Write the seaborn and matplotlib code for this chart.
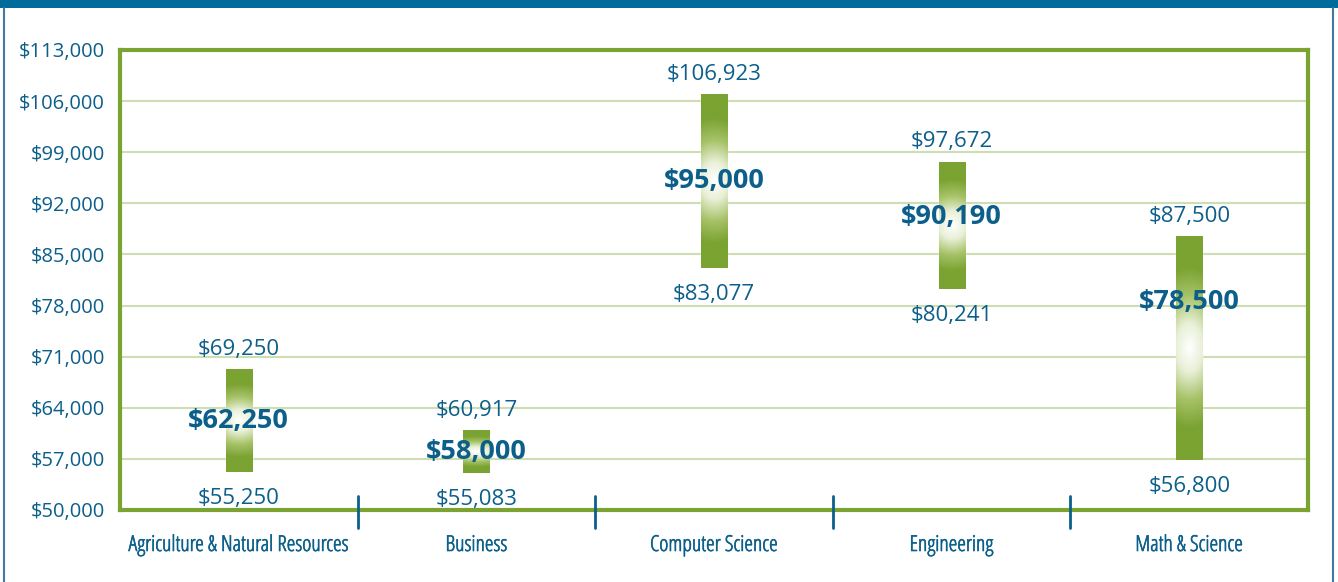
import numpy as np
import pandas as pd
import matplotlib
matplotlib.use("Agg")
import matplotlib.pyplot as plt
import seaborn as sns
from matplotlib.colors import LinearSegmentedColormap
from matplotlib.patches import Rectangle
from matplotlib.lines import Line2D
import matplotlib.transforms as mtransforms
import matplotlib.patheffects as pe

categories = ["Agriculture & Natural Resources", "Business", "Computer Science",
              "Engineering", "Math & Science"]
lows = [55250, 55083, 83077, 80241, 56800]
highs = [69250, 60917, 106923, 97672, 87500]
medians = [62250, 58000, 95000, 90190, 78500]
yticks = list(range(50000, 113001, 7000))

BLUE = "#0b5f8a"
BAND = "#006c9c"
GREEN = "#7aa332"
GRID = "#cddfb2"

sns.set_style("white")
plt.rcParams["font.family"] = ["Open Sans", "DejaVu Sans"]

df = pd.DataFrame({"category": categories, "low": lows, "high": highs,
                   "median": medians})
df["span"] = df["high"] - df["low"]

fig = plt.figure(figsize=(13.38, 5.82), dpi=100)
ax = fig.add_axes([120 / 1338, 1 - 510 / 582, 1188 / 1338, 460 / 582])

sns.barplot(data=df, x="category", y="span", bottom=df["low"].values,
            color=GREEN, width=0.11, ax=ax, saturation=1)

ax.set_ylim(50000, 113000)
ax.set_xlim(-0.5, len(categories) - 0.5)
ax.set_yticks(yticks)
ax.set_yticklabels([f"${v:,}" for v in yticks], color=BLUE, fontsize=14.5)
ax.tick_params(axis="y", length=0, pad=11)
ax.tick_params(axis="x", length=0, pad=18)
ax.set_xticks(range(len(categories)))
ax.set_xticklabels(categories, color=BLUE, fontsize=15.8,
                   fontstretch="condensed",
                   path_effects=[pe.withStroke(linewidth=0.45, foreground=BLUE)])
ax.set_xlabel("")
ax.set_ylabel("")
ax.yaxis.grid(True, color=GRID, lw=1.5)
ax.xaxis.grid(False)
ax.set_axisbelow(True)
for s in ax.spines.values():
    s.set_color(GREEN)
    s.set_linewidth(3)

# gradient fill on each bar
cmap = LinearSegmentedColormap.from_list(
    "g", [(0, "#ffffff"), (0.3, "#e9f0d8"), (0.65, "#a6c267"), (1, GREEN)], N=256)
ny, nx = 240, 60
v = np.linspace(-1, 1, ny)[:, None]
u = np.linspace(-1, 1, nx)[None, :]
d = np.sqrt(v ** 2 + (0.22 * u) ** 2)
t = np.clip(d / 0.72, 0, 1)
for p in ax.patches:
    x0, w = p.get_x(), p.get_width()
    y0, h = p.get_y(), p.get_height()
    im = ax.imshow(t, cmap=cmap, vmin=0, vmax=1, aspect="auto",
                   extent=[x0, x0 + w, y0, y0 + h], origin="lower",
                   interpolation="bilinear", zorder=3)
    im.set_clip_path(p)
ax.set_xlim(-0.5, len(categories) - 0.5)
ax.set_ylim(50000, 113000)

for i, row in df.iterrows():
    ax.annotate(f"${row['high']:,}", (i, row["high"]), xytext=(0, 14.5),
                textcoords="offset points", ha="center", va="center",
                color=BLUE, fontsize=16, zorder=5)
    ax.annotate(f"${row['low']:,}", (i, row["low"]), xytext=(0, -19),
                textcoords="offset points", ha="center", va="center",
                color=BLUE, fontsize=16, zorder=5)
    ax.text(i, row["median"], f"${row['median']:,}", ha="center", va="center",
            color=BLUE, fontsize=19.5, fontweight="bold", fontstretch="normal",
            zorder=6)

# separators between categories
trans = mtransforms.blended_transform_factory(ax.transData, ax.transAxes)
for b in np.arange(0.5, len(categories) - 0.5, 1):
    ax.plot([b, b], [0.03, -0.039], transform=trans, color=BLUE, lw=2,
            clip_on=False, zorder=6)

# page decoration
fig.add_artist(Rectangle((0, 1 - 8 / 582), 1, 8 / 582, transform=fig.transFigure,
                         color=BAND, lw=0))
fig.add_artist(Line2D([3.5 / 1338, 3.5 / 1338], [0, 1 - 8 / 582],
                      transform=fig.transFigure, color="#3f7aa3", lw=1.5))
fig.add_artist(Line2D([1333 / 1338, 1333 / 1338], [0, 1 - 8 / 582],
                      transform=fig.transFigure, color="#3f7aa3", lw=1.5))

fig.savefig("out.png", dpi=100)
